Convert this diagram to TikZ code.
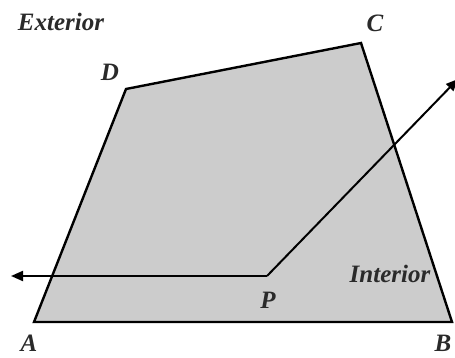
\documentclass[tikz,border=0pt]{standalone}
\usepackage{fontspec}
\setmainfont{Liberation Serif}
\usetikzlibrary{arrows.meta}
\definecolor{ink}{HTML}{000000}
\definecolor{region}{HTML}{CCCCCC}
\definecolor{labelgray}{HTML}{2A2A2A}
\tikzset{
  edge/.style={draw=ink, line width=2.4pt, line join=miter, fill=region},
  ray/.style={-{Triangle[length=12pt,width=10pt]}, draw=ink, line width=2pt},
  lab/.style={font=\fontsize{25}{25}\selectfont\bfseries\itshape, text=labelgray, inner sep=0pt},
}
\begin{document}
\begin{tikzpicture}[x=1pt, y=-1pt]
  \useasboundingbox (0,0) rectangle (455,358);
  % corners of the region
  \coordinate (A) at (34,322);
  \coordinate (B) at (452,322);
  \coordinate (C) at (361,43);
  \coordinate (D) at (126,89);
  \coordinate (P) at (267,276);
  \coordinate (left) at (11,276);
  \coordinate (right) at (458,79);
  \draw[edge] (A) -- (B) -- (C) -- (D) -- cycle;
  % rays from P
  \draw[ray] (P) -- (left);
  \draw[ray] (P) -- (right);
  % labels
  \node[lab] (lA) at (29,343) {A};
  \node[lab] (lB) at (443,343) {B};
  \node[lab] (lC) at (375,23) {C};
  \node[lab] (lD) at (110,72) {D};
  \node[lab] (lP) at (268,300) {P};
  \node[lab] (ext) at (61,22) {Exterior};
  \node[lab] (int) at (390,274) {Interior};
\end{tikzpicture}
\end{document}
